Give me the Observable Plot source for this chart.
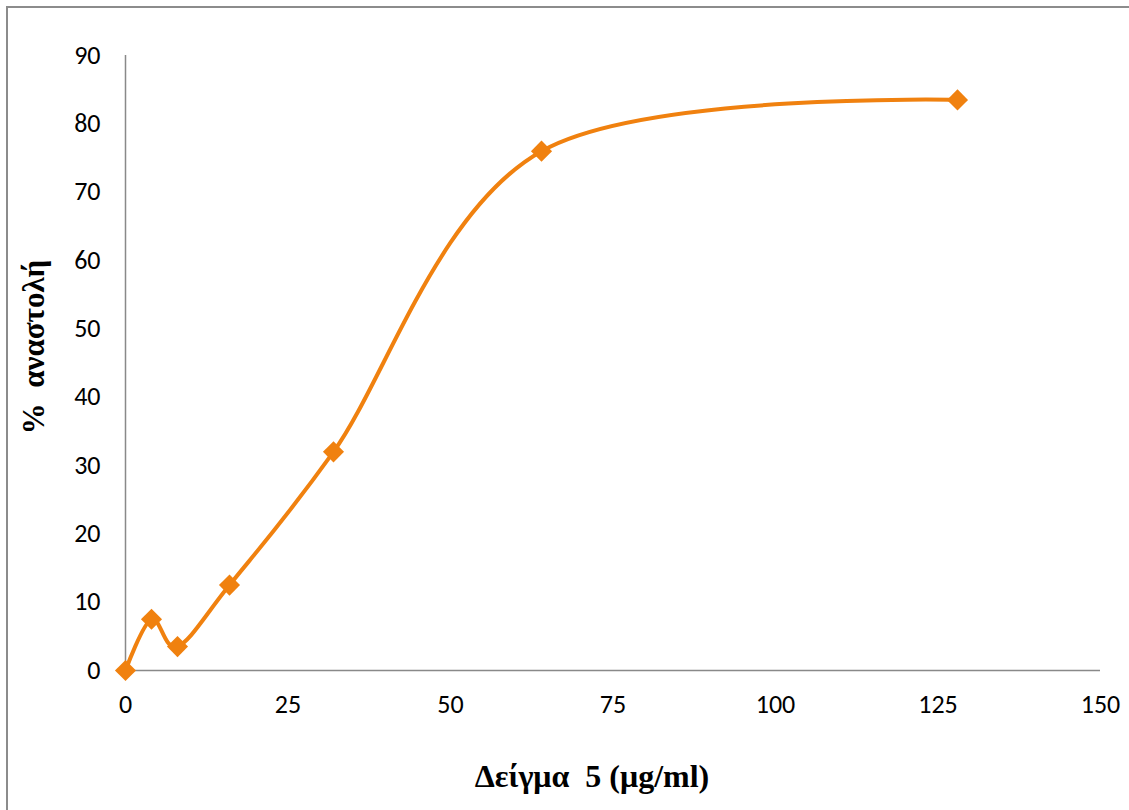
<!DOCTYPE html>
<html>
<head>
<meta charset="utf-8">
<script src="https://cdn.jsdelivr.net/npm/d3@7"></script>
<script src="https://cdn.jsdelivr.net/npm/@observablehq/plot@0.6"></script>
<style>
  html, body { margin: 0; padding: 0; background: #fff; }
  #wrap { position: relative; width: 1129px; height: 810px; overflow: hidden; }
  #frame { position: absolute; left: 6px; top: 6px; width: 1200px; height: 900px;
           border-left: 2px solid #8c8c8c; border-top: 2px solid #8c8c8c; box-sizing: border-box; }
  #chart { position: absolute; left: 0; top: 0; }
  .title { position: absolute; font-family: "Liberation Serif", "Times New Roman", serif; font-weight: bold;
           font-size: 32px; color: #000; white-space: pre; line-height: 1; }
  #xtitle { left: 592px; top: 760px; transform: translateX(-50%); }
  #ytitle { left: 33px; top: 347px; font-size: 31px; transform: translate(-50%, -50%) rotate(-90deg); }
</style>
</head>
<body>
<div id="wrap">
  <div id="frame"></div>
  <div id="chart"></div>
  <div class="title" id="xtitle"></div>
  <div class="title" id="ytitle"></div>
</div>
<script>
const concentration = [0, 4, 8, 16, 32, 64, 128];
const inhibition = [0, 7.5, 3.5, 12.5, 32, 76, 83.5];
const xTicks = [0, 25, 50, 75, 100, 125, 150];
const yTicks = [0, 10, 20, 30, 40, 50, 60, 70, 80, 90];
const xTitle = "Δείγμα  5 (μg/ml)";
const yTitle = "%  αναστολή";

const data = concentration.map((c, i) => ({x: c, y: inhibition[i]}));
const orange = "#F0810F";
const axisGray = "#898989";

const chart = Plot.plot({
  width: 1129,
  height: 810,
  marginLeft: 125,
  marginRight: 29,
  marginTop: 55,
  marginBottom: 140,
  style: {fontFamily: "Carlito, Lato, sans-serif", fontSize: "26px", color: "#000", background: "transparent"},
  x: {domain: [0, 150]},
  y: {domain: [0, 90]},
  marks: [
    Plot.ruleX([0], {stroke: axisGray, strokeWidth: 1.5}),
    Plot.ruleY([0], {stroke: axisGray, strokeWidth: 1.5}),
    Plot.axisX({ticks: xTicks, tickSize: 0, tickPadding: 24, label: null, fontSize: 26}),
    Plot.axisY({ticks: yTicks, tickSize: 0, tickPadding: 25, label: null, fontSize: 26}),
    Plot.line(data, {x: "x", y: "y", curve: "cardinal", tension: 0, stroke: orange, strokeWidth: 4}),
    Plot.dot(data, {x: "x", y: "y", symbol: "diamond2", r: 9.5, fill: orange, stroke: "none"})
  ]
});
document.getElementById("chart").appendChild(chart);
document.getElementById("xtitle").textContent = xTitle;
document.getElementById("ytitle").textContent = yTitle;
</script>
</body>
</html>
